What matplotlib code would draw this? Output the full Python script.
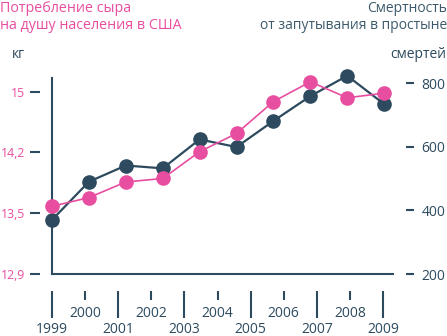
import numpy as np
import matplotlib
matplotlib.use("Agg")
import matplotlib.pyplot as plt

plt.rcParams['font.family'] = ['Open Sans', 'DejaVu Sans']

# данные
years = [2000, 2001, 2002, 2003, 2004, 2005, 2006, 2007, 2008, 2009]
cheese_kg = [13.58, 13.68, 13.86, 13.90, 14.21, 14.45, 14.87, 15.13, 14.92, 14.98]
deaths = [370, 490, 541, 532, 623, 599, 681, 759, 823, 734]
tick_years = list(range(1999, 2010))
kg_ticks = [12.9, 13.5, 14.2, 15.0]
kg_labels = ['12,9', '13,5', '14,2', '15']
death_ticks = [200, 400, 600, 800]

PINK = '#e84ea0'
DARK = '#2d4a5e'

# неравномерная шкала кг (как на исходной картинке)
kg_pts = [12.0, 12.9, 13.5, 14.2, 15.0, 16.0]
u_pts = [-1.5, 0.0, 1.0, 2.0, 3.0, 4.25]
def fwd(v):
    return np.interp(v, kg_pts, u_pts)
def inv(u):
    return np.interp(u, u_pts, kg_pts)

fig = plt.figure(figsize=(4.47, 3.36), dpi=100)
ax = fig.add_axes([52/447, 62/336, 341/447, 196/336])
ax_r = ax.twinx()

ax.set_yscale('function', functions=(fwd, inv))
ax.set_ylim(12.9, 15.18)
ax_r.set_ylim(200, 816)
ax.set_xlim(2000, 2009.24)

# линии
ax_r.plot(years, deaths, color=DARK, lw=1.6, marker='o', ms=9.5,
          mfc=DARK, mec=DARK, clip_on=False)
ax.plot(years, cheese_kg, color=PINK, lw=1.2, marker='o', ms=9.5,
        mfc=PINK, mec=PINK, clip_on=False)

ax.set_zorder(ax_r.get_zorder() + 1)
ax.patch.set_visible(False)

# оси
for s in ax.spines.values():
    s.set_visible(False)
ax.spines['left'].set_position(('outward', 9))
ax.spines['bottom'].set_position(('outward', 12))

for s in ['top', 'right']:
    ax_r.spines[s].set_visible(False)
for s in ['left', 'bottom']:
    ax_r.spines[s].set_color(DARK)
    ax_r.spines[s].set_linewidth(1.5)
ax_r.spines['right'].set_position(('outward', 9))

ax.set_yticks(kg_ticks)
ax.set_yticklabels(kg_labels)
ax.yaxis.set_minor_locator(matplotlib.ticker.NullLocator())
ax.tick_params(axis='y', direction='out', length=7.5, width=1.5,
               color=DARK, labelcolor=PINK, labelsize=8.8, pad=3)

ax_r.set_yticks(death_ticks)
ax_r.tick_params(axis='y', direction='out', length=6, width=1.5,
                 color=DARK, labelcolor=DARK, labelsize=10, pad=5.5)

pos = [2000 + (y - 1999) * 0.897 for y in tick_years]
odd = [p for p, y in zip(pos, tick_years) if y % 2 == 1]
even = [p for p, y in zip(pos, tick_years) if y % 2 == 0]
ax.set_xticks(odd)
ax.set_xticklabels([str(y) for y in tick_years if y % 2 == 1])
ax.set_xticks(even, minor=True)
ax.set_xticklabels([str(y) for y in tick_years if y % 2 == 0], minor=True)
ax.tick_params(axis='x', which='major', direction='out', length=19.5, width=1.5,
               color=DARK, labelcolor=DARK, labelsize=10, pad=3)
ax.tick_params(axis='x', which='minor', direction='out', length=6.5, width=1.5,
               color=DARK, labelcolor=DARK, labelsize=10, pad=4.5)

# подписи
fig.text(0.0, 1 - 1/336, 'Потребление сыра\nна душу населения в США',
         ha='left', va='top', color=PINK, fontsize=10.3, linespacing=1.15)
fig.text(1.0, 1 - 1/336, 'Смертность\nот запутывания в простыне',
         ha='right', va='top', color='#3d5a6c', fontsize=10, linespacing=1.18,
         multialignment='right')
fig.text(12/447, 1 - 55/336, 'кг', ha='left', va='center', color=DARK, fontsize=10)
fig.text(446/447, 1 - 55/336, 'смертей', ha='right', va='center', color=DARK, fontsize=10)

fig.savefig('out.png', dpi=100)
